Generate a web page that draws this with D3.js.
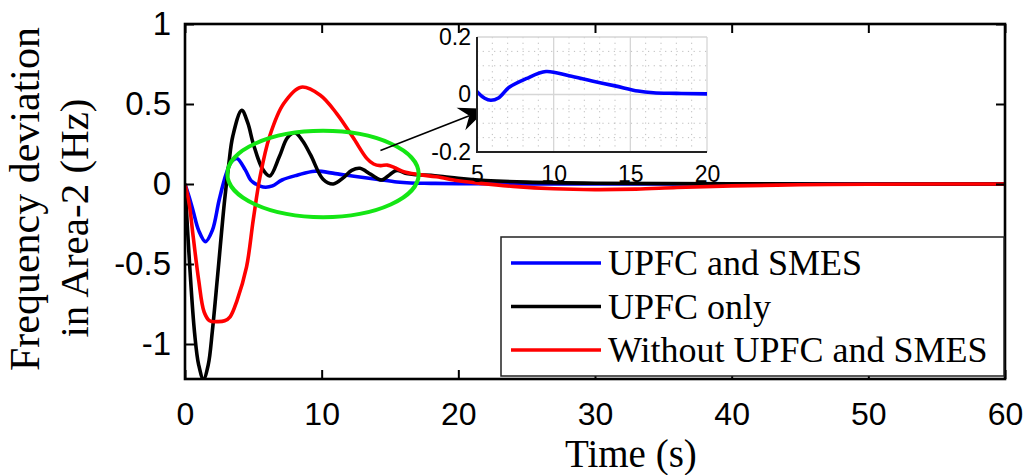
<!DOCTYPE html>
<html>
<head>
<meta charset="utf-8">
<script src="https://cdn.jsdelivr.net/npm/d3@7/dist/d3.min.js"></script>
<style>
  html, body { margin: 0; padding: 0; background: #fff; }
  svg { display: block; }
  .tick text { font-family: "Liberation Sans", Arial, sans-serif; fill: #000; }
  .serif { font-family: "Liberation Serif", "Times New Roman", serif; fill: #000; }
</style>
</head>
<body>
<svg id="chart" width="1027" height="475"></svg>
<script>
// Frequency deviation in Area-2 after a load disturbance, three control cases.
const timeTicks = [0, 10, 20, 30, 40, 50, 60];
const freqTicks = [-1, -0.5, 0, 0.5, 1];
const freqTickLabels = ["-1", "-0.5", "0", "0.5", "1"];

const insetTimeTicks = [5, 10, 15, 20];
const insetFreqTicks = [-0.2, 0, 0.2];
const insetFreqTickLabels = ["-0.2", "0", "0.2"];

const seriesNames = ["UPFC and SMES", "UPFC only", "Without UPFC and SMES"];
const seriesColors = ["#0000ff", "#000000", "#ff0000"];

// UPFC and SMES
const timeUpfcSmes = [0, 0.3, 0.6, 1.0, 1.5, 2.0, 2.5, 3.0, 3.4, 3.8, 4.4, 4.8, 5.0, 5.5, 5.9, 6.4, 7.1, 8.2, 9.5, 11, 12.5, 14, 15.5, 16.5, 18, 20, 25, 30, 40, 50, 60];
const freqUpfcSmes = [0, -0.08, -0.17, -0.29, -0.36, -0.29, -0.1, 0.06, 0.14, 0.16, 0.09, 0.025, 0.01, -0.013, -0.02, -0.012, 0.025, 0.055, 0.08, 0.065, 0.047, 0.03, 0.012, 0.006, 0.004, 0.002, 0.001, 0, 0, 0, 0];

// UPFC only
const timeUpfc = [0, 0.35, 0.7, 1.0, 1.35, 1.7, 2.0, 2.4, 2.9, 3.2, 3.5, 4.15, 4.6, 5.0, 5.7, 6.2, 6.9, 7.5, 8.05, 8.6, 9.2, 10.1, 10.85, 11.6, 12.2, 12.8, 13.6, 14.4, 15.0, 15.5, 16.2, 17, 18, 19, 20, 22, 25, 30, 40, 60];
const freqUpfc = [0, -0.52, -0.93, -1.13, -1.22, -1.13, -0.92, -0.56, -0.1, 0.12, 0.3, 0.46, 0.38, 0.25, 0.09, 0.05, 0.17, 0.29, 0.32, 0.27, 0.18, 0.03, 0.0, 0.04, 0.085, 0.098, 0.06, 0.025, 0.06, 0.085, 0.065, 0.058, 0.055, 0.045, 0.035, 0.022, 0.012, 0.005, 0.001, 0];

// Without UPFC and SMES
const timeNoCtrl = [0, 0.3, 0.6, 1.0, 1.4, 1.8, 2.4, 2.9, 3.3, 3.8, 4.5, 5.0, 5.5, 6.2, 7.2, 8.5, 9.9, 11.1, 12.3, 13.3, 13.8, 14.3, 14.8, 15.4, 16, 17, 18.4, 20, 21.6, 24, 27, 30, 33, 36, 40, 45, 50, 55, 60];
const freqNoCtrl = [0, -0.12, -0.33, -0.6, -0.8, -0.855, -0.86, -0.855, -0.83, -0.73, -0.52, -0.22, 0.05, 0.3, 0.5, 0.605, 0.555, 0.44, 0.29, 0.16, 0.125, 0.115, 0.118, 0.1, 0.077, 0.06, 0.045, 0.02, 0.004, -0.015, -0.03, -0.035, -0.032, -0.022, -0.012, -0.005, -0.002, 0, 0];

const svg = d3.select("#chart");

// Main axes geometry
const plotL = 185, plotR = 1005, plotT = 24, plotB = 379;
const x = d3.scaleLinear().domain([0, 60]).range([plotL, plotR]);
const y = d3.scaleLinear().domain([-1.21875, 1]).range([plotB, plotT]);

svg.append("defs").append("clipPath").attr("id", "plotClip")
  .append("rect").attr("x", plotL).attr("y", plotT).attr("width", plotR - plotL).attr("height", plotB - plotT);

const series = [
  { t: timeUpfcSmes, f: freqUpfcSmes },
  { t: timeUpfc, f: freqUpfc },
  { t: timeNoCtrl, f: freqNoCtrl }
];

const line = d3.line()
  .x(d => x(d[0])).y(d => y(d[1]))
  .curve(d3.curveCatmullRom.alpha(0.5));

const plot = svg.append("g").attr("clip-path", "url(#plotClip)");
series.forEach((s, i) => {
  plot.append("path")
    .datum(s.t.map((t, k) => [t, s.f[k]]))
    .attr("fill", "none")
    .attr("stroke", seriesColors[i])
    .attr("stroke-width", 3.6)
    .attr("stroke-linejoin", "round")
    .attr("d", line);
});

// Axes with inward ticks on all four sides
const tickFont = 33;
const xAxis = svg.append("g").attr("transform", `translate(0,${plotB})`)
  .call(d3.axisBottom(x).tickValues(timeTicks).tickFormat(d => String(d))
    .tickSizeInner(-9).tickSizeOuter(0).tickPadding(23));
const yAxis = svg.append("g").attr("transform", `translate(${plotL},0)`)
  .call(d3.axisLeft(y).tickValues(freqTicks).tickFormat((d, i) => freqTickLabels[i])
    .tickSizeInner(-9).tickSizeOuter(0).tickPadding(14));
const xTop = svg.append("g").attr("transform", `translate(0,${plotT})`)
  .call(d3.axisTop(x).tickValues(timeTicks).tickFormat("").tickSizeInner(-9).tickSizeOuter(0));
const yRight = svg.append("g").attr("transform", `translate(${plotR},0)`)
  .call(d3.axisRight(y).tickValues(freqTicks).tickFormat("").tickSizeInner(-9).tickSizeOuter(0));
[xAxis, yAxis, xTop, yRight].forEach(g => {
  g.select(".domain").remove();
  g.selectAll(".tick line").attr("stroke", "#000").attr("stroke-width", 2);
  g.selectAll(".tick text").attr("font-size", tickFont).attr("fill", "#000");
});
xAxis.selectAll(".tick text").attr("font-size", 32);

svg.append("rect")
  .attr("x", plotL).attr("y", plotT).attr("width", plotR - plotL).attr("height", plotB - plotT)
  .attr("fill", "none").attr("stroke", "#000").attr("stroke-width", 2.6);

// Axis titles
svg.append("text").attr("class", "serif")
  .attr("x", 565).attr("y", 466.5)
  .attr("font-size", 39)
  .text("Time (s)");

svg.append("text").attr("class", "serif")
  .attr("transform", "translate(39,199) rotate(-90)")
  .attr("text-anchor", "middle")
  .attr("font-size", 42)
  .text("Frequency deviation");
svg.append("text").attr("class", "serif")
  .attr("transform", "translate(88,218) rotate(-90)")
  .attr("text-anchor", "middle")
  .attr("font-size", 41)
  .text("in Area-2 (Hz)");

// Highlight ring around the settling region
const ringCenter = [10.1, 0.0625];
const ringRadius = [7.0, 0.27];
svg.append("ellipse")
  .attr("cx", x(ringCenter[0])).attr("cy", y(ringCenter[1]))
  .attr("rx", x(ringRadius[0]) - x(0)).attr("ry", y(0) - y(ringRadius[1]))
  .attr("fill", "none").attr("stroke", "#14e614").attr("stroke-width", 4);

// Pointer from the ring to the zoomed view
const arrowFrom = [14.3, 0.21];
const arrowTo = [22.1, 0.47];
{
  const x0 = x(arrowFrom[0]), y0 = y(arrowFrom[1]);
  const x1 = x(arrowTo[0]), y1 = y(arrowTo[1]);
  const dx = x1 - x0, dy = y1 - y0, len = Math.hypot(dx, dy);
  const ux = dx / len, uy = dy / len, px = -uy, py = ux;
  const headLen = 28, halfW = 12, notch = 9;
  const bx = x1 - ux * headLen, by = y1 - uy * headLen;
  const nx = x1 - ux * (headLen - notch), ny = y1 - uy * (headLen - notch);
  svg.append("line")
    .attr("x1", x0).attr("y1", y0).attr("x2", nx).attr("y2", ny)
    .attr("stroke", "#000").attr("stroke-width", 1.6);
  svg.append("path")
    .attr("d", `M${x1},${y1}L${bx + px * halfW},${by + py * halfW}L${nx},${ny}L${bx - px * halfW},${by - py * halfW}Z`)
    .attr("fill", "#000");
}

// Inset: zoomed view of UPFC and SMES between 5 s and 20 s
const iLeft = 477, iRight = 707, iTop = 37, iBottom = 152;
const xi = d3.scaleLinear().domain([5, 20]).range([iLeft, iRight]);
const yi = d3.scaleLinear().domain([-0.2, 0.2]).range([iBottom, iTop]);
const inset = svg.append("g");
inset.append("rect")
  .attr("x", iLeft).attr("y", iTop).attr("width", iRight - iLeft).attr("height", iBottom - iTop)
  .attr("fill", "#fff");

// minor dotted grid
inset.append("g").selectAll("line").data(d3.range(6, 20).filter(v => v % 5 !== 0)).join("line")
  .attr("x1", d => xi(d)).attr("x2", d => xi(d)).attr("y1", iTop).attr("y2", iBottom)
  .attr("stroke", "#bdbdbd").attr("stroke-width", 1).attr("stroke-dasharray", "1.2,4.5");
inset.append("g").selectAll("line").data([-0.15, -0.1, -0.05, 0.05, 0.1, 0.15]).join("line")
  .attr("x1", iLeft).attr("x2", iRight).attr("y1", d => yi(d)).attr("y2", d => yi(d))
  .attr("stroke", "#bdbdbd").attr("stroke-width", 1).attr("stroke-dasharray", "1.2,4.5");
// major grid
inset.append("g").selectAll("line").data(insetTimeTicks).join("line")
  .attr("x1", d => xi(d)).attr("x2", d => xi(d)).attr("y1", iTop).attr("y2", iBottom)
  .attr("stroke", "#d6d6d6").attr("stroke-width", 1.3);
inset.append("g").selectAll("line").data(insetFreqTicks).join("line")
  .attr("x1", iLeft).attr("x2", iRight).attr("y1", d => yi(d)).attr("y2", d => yi(d))
  .attr("stroke", "#d6d6d6").attr("stroke-width", 1.3);

const insetData = timeUpfcSmes.map((t, k) => [t, freqUpfcSmes[k]]).filter(d => d[0] >= 4.4 && d[0] <= 25);
inset.append("clipPath").attr("id", "insetClip")
  .append("rect").attr("x", iLeft).attr("y", iTop).attr("width", iRight - iLeft).attr("height", iBottom - iTop);
inset.append("path")
  .datum(insetData)
  .attr("clip-path", "url(#insetClip)")
  .attr("fill", "none").attr("stroke", seriesColors[0]).attr("stroke-width", 3.6)
  .attr("stroke-linejoin", "round")
  .attr("d", d3.line().x(d => xi(d[0])).y(d => yi(d[1])).curve(d3.curveCatmullRom.alpha(0.5)));

const ixAxis = inset.append("g").attr("transform", `translate(0,${iBottom})`)
  .call(d3.axisBottom(xi).tickValues(insetTimeTicks).tickFormat(d => String(d))
    .tickSize(0).tickPadding(14));
const iyAxis = inset.append("g").attr("transform", `translate(${iLeft},0)`)
  .call(d3.axisLeft(yi).tickValues(insetFreqTicks).tickFormat((d, i) => insetFreqTickLabels[i])
    .tickSize(0).tickPadding(6));
[ixAxis, iyAxis].forEach(g => {
  g.select(".domain").remove();
  g.selectAll(".tick text").attr("font-size", 23).attr("fill", "#222");
});
inset.append("path")
  .attr("d", `M${iLeft},${iTop}V${iBottom}H${iRight}`)
  .attr("fill", "none").attr("stroke", "#222").attr("stroke-width", 2);

// Legend
const lgLeft = 501, lgTop = 237, lgRight = 1004, lgBottom = 376;
const legend = svg.append("g");
legend.append("rect")
  .attr("x", lgLeft).attr("y", lgTop).attr("width", lgRight - lgLeft).attr("height", lgBottom - lgTop)
  .attr("fill", "#fff").attr("stroke", "#222").attr("stroke-width", 1.5);
const rowY = d3.scalePoint().domain(seriesNames).range([263, 350]);
seriesNames.forEach((name, i) => {
  legend.append("line")
    .attr("x1", 511).attr("x2", 601).attr("y1", rowY(name)).attr("y2", rowY(name))
    .attr("stroke", seriesColors[i]).attr("stroke-width", 3.6);
  legend.append("text").attr("class", "serif")
    .attr("x", 608).attr("y", rowY(name) + 12)
    .attr("font-size", 36)
    .text(name);
});
</script>
</body>
</html>
